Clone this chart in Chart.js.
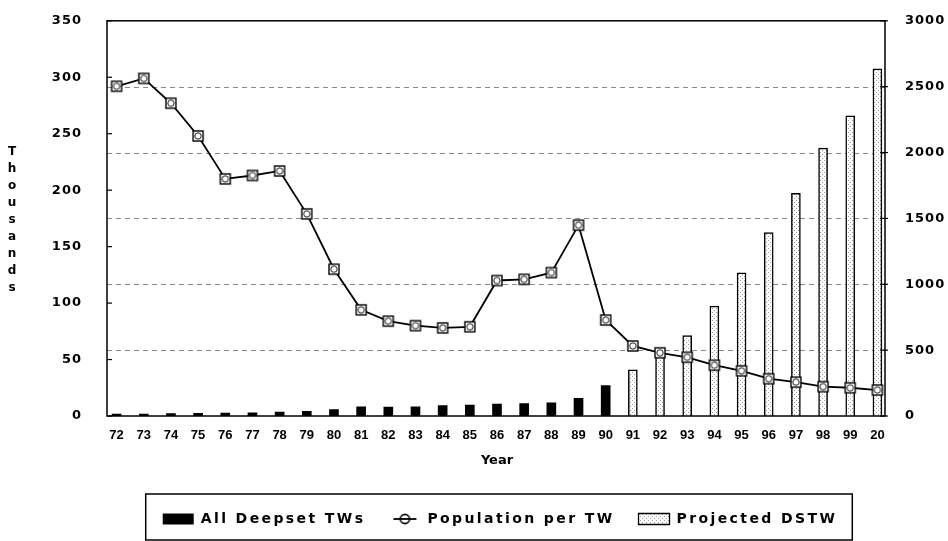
<!DOCTYPE html>
<html><head><meta charset="utf-8">
<script src="https://cdn.jsdelivr.net/npm/chart.js@4.4.1/dist/chart.umd.min.js"></script>
<style>html,body{margin:0;padding:0;background:#fff;}canvas{display:block;}</style>
</head><body>
<canvas id="c" width="948" height="541"></canvas>
<script>
// ---------------- data ----------------
const years = ['72','73','74','75','76','77','78','79','80','81','82','83','84','85','86','87','88','89','90','91','92','93','94','95','96','97','98','99','20'];
const populationPerTW = [292,299,277,248,210,213,217,179,130,94,84,80,78,79,120,121,127,169,85,62,56,52,45,40,33,30,26,25,23];
const allDeepsetTWs = [15,15,18,20,22,25,30,35,48,70,68,70,80,82,90,95,100,134,231,null,null,null,null,null,null,null,null,null,null];
const projectedDSTW = [null,null,null,null,null,null,null,null,null,null,null,null,null,null,null,null,null,null,null,350,500,610,834,1087,1392,1690,2033,2278,2636];
const leftTicks = [0,50,100,150,200,250,300,350];
const rightTicks = [0,500,1000,1500,2000,2500,3000];
const seriesNames = ['All Deepset TWs','Population per TW','Projected DSTW'];
const yTitle = 'Thousands';
const xTitle = 'Year';

// ---------------- styles ----------------
const FONT = "'DejaVu Sans', sans-serif";
const BORDER = {left:107, right:885};
const LEG_DX = 26, LEG_DY = -2;

function makePattern(){
  const p = document.createElement('canvas'); p.width = 4; p.height = 4;
  const g = p.getContext('2d');
  g.fillStyle = '#ffffff'; g.fillRect(0,0,4,4);
  g.fillStyle = '#9a9a9a'; g.fillRect(0,0,1,1); g.fillRect(2,2,1,1);
  return document.getElementById('c').getContext('2d').createPattern(p,'repeat');
}
const stipple = makePattern();

function makeMarker(){
  const m = document.createElement('canvas'); m.width = 14; m.height = 14;
  const g = m.getContext('2d');
  g.fillStyle = '#fff'; g.strokeStyle = '#000'; g.lineWidth = 1.4;
  g.fillRect(2,2,10,10); g.strokeRect(2,2,10,10);
  g.lineWidth = 0.9; g.beginPath(); g.arc(7,7,3.2,0,Math.PI*2); g.stroke();
  return m;
}
const marker = makeMarker();

function makeLegendLine(){
  const m = document.createElement('canvas'); m.width = 31; m.height = 14;
  const g = m.getContext('2d');
  g.fillStyle = '#fff'; g.strokeStyle = '#000';
  g.lineWidth = 1.6; g.beginPath(); g.arc(15.5,7,4.6,0,Math.PI*2); g.fill(); g.stroke();
  g.lineWidth = 1.8; g.beginPath(); g.moveTo(4,7); g.lineTo(27,7); g.stroke();
  return m;
}
const legendLine = makeLegendLine();

function spaced(fn, ctx, sp){
  return function(){ ctx.save(); ctx.letterSpacing = sp; const r = fn.apply(this, arguments); ctx.restore(); return r; };
}

const decor = {
  id:'decor',
  afterInit(chart){
    const lg = chart.legend, ctx = chart.ctx;
    const of = lg.fit;
    lg.fit = function(){ ctx.save(); ctx.letterSpacing='2.4px'; of.call(this); ctx.restore(); this.height = 51; };
    const od = lg.draw;
    lg.draw = function(){
      ctx.save(); ctx.letterSpacing='2.4px'; ctx.translate(LEG_DX, LEG_DY); od.call(this); ctx.restore();
      const hb = this.legendHitBoxes;
      if (!hb || !hb.length) return;
      const l = hb[0].left + LEG_DX - 17;
      const last = hb[hb.length-1];
      const r = last.left + last.width + LEG_DX + 15;
      ctx.save(); ctx.strokeStyle = '#000'; ctx.lineWidth = 1.5;
      ctx.strokeRect(l, 494, r - l, 46); ctx.restore();
    };
  },
  afterLayout(chart){
    ['y','y1'].forEach(id => {
      const s = chart.scales[id];
      if (s && !s._spacedPatched){ s.drawLabels = spaced(s.drawLabels, chart.ctx, '1px'); s._spacedPatched = true; }
    });
  },
  beforeDatasetsDraw(chart){
    const ctx = chart.ctx, y1 = chart.scales.y1;
    ctx.save(); ctx.strokeStyle = '#8a8a8a'; ctx.lineWidth = 1; ctx.setLineDash([5,4]);
    rightTicks.forEach(v => {
      if (v === rightTicks[0] || v === rightTicks[rightTicks.length-1]) return;
      const py = Math.round(y1.getPixelForValue(v)) + 0.5;
      ctx.beginPath(); ctx.moveTo(BORDER.left, py); ctx.lineTo(BORDER.right, py); ctx.stroke();
    });
    ctx.restore();
  },
  afterDatasetsDraw(chart){
    const ctx = chart.ctx, a = chart.chartArea, y = chart.scales.y, y1 = chart.scales.y1;
    ctx.save(); ctx.strokeStyle = '#000'; ctx.lineWidth = 1.5;
    ctx.strokeRect(BORDER.left, a.top, BORDER.right - BORDER.left, a.bottom - a.top);
    ctx.lineWidth = 1.2;
    leftTicks.forEach(v => { const py = y.getPixelForValue(v); ctx.beginPath(); ctx.moveTo(BORDER.left, py); ctx.lineTo(BORDER.left+5, py); ctx.stroke(); });
    rightTicks.forEach(v => { const py = y1.getPixelForValue(v); ctx.beginPath(); ctx.moveTo(BORDER.right-5, py); ctx.lineTo(BORDER.right+3, py); ctx.stroke(); });
    ctx.restore();
  },
  afterDraw(chart){
    const ctx = chart.ctx;
    ctx.save(); ctx.fillStyle = '#000'; ctx.font = "bold 12px " + FONT;
    ctx.textAlign = 'center'; ctx.textBaseline = 'middle';
    yTitle.split('').forEach((ch, i) => ctx.fillText(ch, 12, 152 + i*17));
    ctx.restore();
  }
};

Chart.defaults.color = '#000';
Chart.defaults.font.family = FONT;

new Chart(document.getElementById('c'), {
  type:'bar',
  data:{
    labels: years,
    datasets:[
      { type:'line', label: seriesNames[1], data: populationPerTW, yAxisID:'y', order:0,
        borderColor:'#000', borderWidth:1.8, pointStyle: marker, pointRadius:6, tension:0, fill:false },
      { type:'bar', label: seriesNames[0], data: allDeepsetTWs, yAxisID:'y1', order:1,
        backgroundColor:'#000', borderColor:'#000', borderWidth:0, barThickness:9, grouped:false },
      { type:'bar', label: seriesNames[2], data: projectedDSTW, yAxisID:'y1', order:2,
        backgroundColor: stipple, borderColor:'#000', borderWidth:1.5, barThickness:9, grouped:false }
    ]
  },
  options:{
    responsive:false, animation:false, devicePixelRatio:1,
    layout:{ padding:{ top:13, left:0, right:0, bottom:0 } },
    plugins:{
      tooltip:{ enabled:false },
      legend:{
        position:'bottom',
        labels:{
          usePointStyle:true, pointStyleWidth:31, boxHeight:11, padding:24,
          font:{ family: FONT, size:14, weight:'bold' }, color:'#000',
          generateLabels(){
            return [
              { text: seriesNames[0], fillStyle:'#000', strokeStyle:'#000', lineWidth:0, pointStyle:'rect', hidden:false, datasetIndex:1 },
              { text: seriesNames[1], fillStyle:'#fff', strokeStyle:'#000', lineWidth:0, pointStyle: legendLine, hidden:false, datasetIndex:0 },
              { text: seriesNames[2], fillStyle: stipple, strokeStyle:'#000', lineWidth:1.3, pointStyle:'rect', hidden:false, datasetIndex:2 }
            ];
          }
        }
      }
    },
    scales:{
      x:{
        offset:true,
        grid:{ display:false }, border:{ display:false },
        ticks:{ autoSkip:false, maxRotation:0, minRotation:0, padding:4,
          font:{ family:"'Liberation Sans', sans-serif", size:13, weight:'bold' } },
        title:{ display:true, text:xTitle, font:{ family:FONT, size:13, weight:'bold' }, padding:{ top:0, bottom:22 } },
        afterFit(s){ s.width = s.width; s.height = 74; }
      },
      y:{
        position:'left', min:leftTicks[0], max:leftTicks[leftTicks.length-1],
        grid:{ display:false }, border:{ display:false },
        ticks:{ stepSize:leftTicks[1]-leftTicks[0], padding:13, callback:(v)=>String(v),
          font:{ family:FONT, size:13, weight:'bold' } },
        afterFit(s){ s.width = 103; }
      },
      y1:{
        position:'right', min:rightTicks[0], max:rightTicks[rightTicks.length-1],
        grid:{ display:false }, border:{ display:false },
        ticks:{ stepSize:rightTicks[1]-rightTicks[0], padding:6, callback:(v)=>String(v),
          font:{ family:FONT, size:13, weight:'bold' } },
        afterFit(s){ s.width = 57; }
      }
    }
  },
  plugins:[decor]
});
</script>
</body></html>
